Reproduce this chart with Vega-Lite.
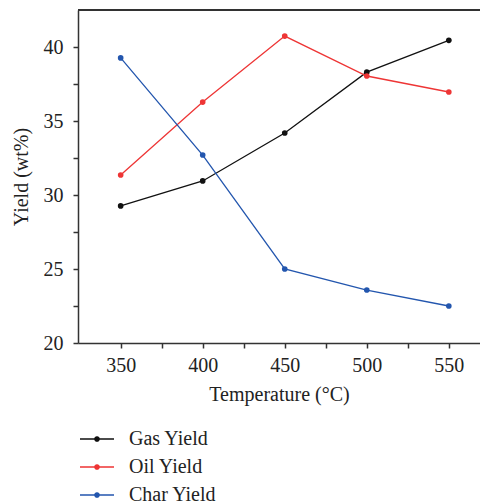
{
  "$schema": "https://vega.github.io/schema/vega-lite/v6.json",
  "autosize": "none",
  "padding": {"left": 78, "top": 10, "right": 0, "bottom": 161},
  "width": 402,
  "height": 333,
  "config": {
    "font": "Liberation Serif",
    "view": {"stroke": null},
    "axis": {
      "domainColor": "#333333", "domainWidth": 1.5, "tickColor": "#333333", "tickWidth": 1.5,
      "tickSize": 5, "grid": false, "labelFont": "Liberation Serif", "labelFontSize": 20,
      "labelColor": "#222222", "titleFont": "Liberation Serif", "titleFontSize": 20,
      "titleFontWeight": "normal", "titleColor": "#222222"
    }
  },
  "data": {
    "values": [
      {"T": 350, "y": 29.26, "s": "Gas Yield"},
      {"T": 400, "y": 30.95, "s": "Gas Yield"},
      {"T": 450, "y": 34.19, "s": "Gas Yield"},
      {"T": 500, "y": 38.3, "s": "Gas Yield"},
      {"T": 550, "y": 40.45, "s": "Gas Yield"},
      {"T": 350, "y": 31.35, "s": "Oil Yield"},
      {"T": 400, "y": 36.28, "s": "Oil Yield"},
      {"T": 450, "y": 40.74, "s": "Oil Yield"},
      {"T": 500, "y": 38.04, "s": "Oil Yield"},
      {"T": 550, "y": 36.96, "s": "Oil Yield"},
      {"T": 350, "y": 39.26, "s": "Char Yield"},
      {"T": 400, "y": 32.7, "s": "Char Yield"},
      {"T": 450, "y": 25.0, "s": "Char Yield"},
      {"T": 500, "y": 23.58, "s": "Char Yield"},
      {"T": 550, "y": 22.5, "s": "Char Yield"}
    ]
  },
  "layer": [
    {
      "mark": {"type": "rule", "color": "#333333", "strokeWidth": 1.5},
      "encoding": {"y": {"datum": 42.5, "type": "quantitative"}}
    },
    {
      "mark": {"type": "line", "strokeWidth": 1.3, "point": {"filled": true, "size": 32, "opacity": 1}},
      "encoding": {
        "x": {
          "field": "T", "type": "quantitative", "title": "Temperature (°C)",
          "scale": {"domain": [324, 569], "nice": false, "zero": false},
          "axis": {"values": [350, 375, 400, 425, 450, 475, 500, 525, 550],
                   "labelExpr": "datum.value % 50 === 0 ? datum.label : ''",
                   "labelPadding": 7, "titlePadding": 9}
        },
        "y": {
          "field": "y", "type": "quantitative", "title": "Yield (wt%)",
          "scale": {"domain": [20, 42.5], "nice": false, "zero": false},
          "axis": {"values": [20, 22.5, 25, 27.5, 30, 32.5, 35, 37.5, 40],
                   "labelExpr": "datum.value % 5 === 0 ? datum.label : ''",
                   "labelPadding": 10, "titlePadding": 12}
        },
        "color": {
          "field": "s", "type": "nominal",
          "scale": {"domain": ["Gas Yield", "Oil Yield", "Char Yield"], "range": ["#111111", "#ee3535", "#2356ae"]},
          "legend": {
            "title": null, "orient": "none", "legendX": 1, "legendY": 411,
            "symbolType": "M-1,0H1M-0.13,0A0.13,0.13,0,1,1,0.13,0A0.13,0.13,0,1,1,-0.13,0Z",
            "symbolSize": 1156, "symbolStrokeWidth": 1.3,
            "labelFont": "Liberation Serif", "labelFontSize": 20, "labelColor": "#222222",
            "labelOffset": 14, "rowPadding": -7,
            "encode": {"symbols": {"update": {"fill": {"scale": "color", "field": "value"}, "opacity": {"value": 1}}}}
          }
        }
      }
    }
  ]
}
